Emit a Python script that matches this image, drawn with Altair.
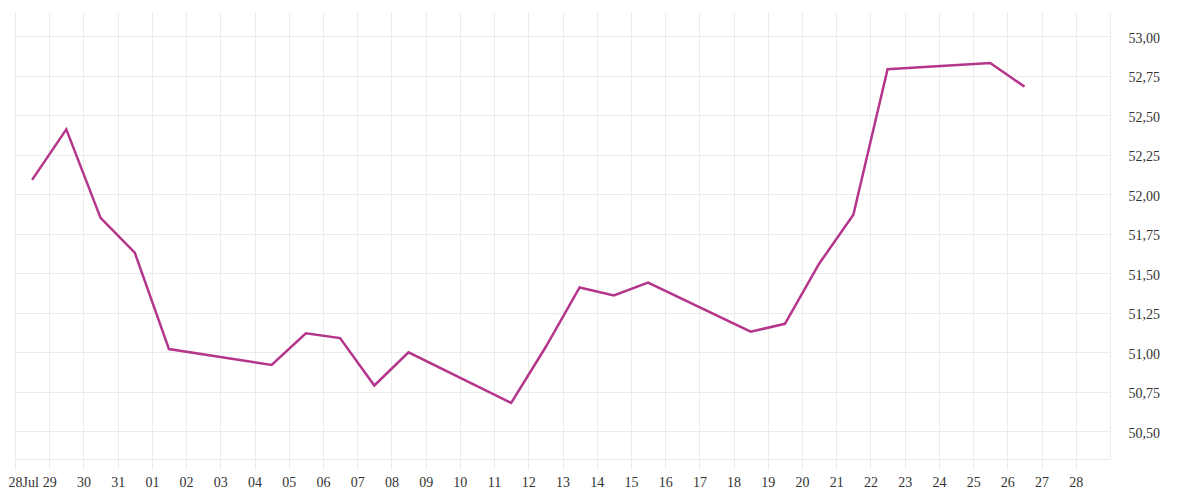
import json
import altair as alt
import pandas as pd

# Trading days (noon UTC) and closing values
dates = [
    "2025-07-28", "2025-07-29", "2025-07-30", "2025-07-31", "2025-08-01",
    "2025-08-04", "2025-08-05", "2025-08-06", "2025-08-07", "2025-08-08",
    "2025-08-11", "2025-08-12", "2025-08-13", "2025-08-14", "2025-08-15",
    "2025-08-18", "2025-08-19", "2025-08-20", "2025-08-21", "2025-08-22",
    "2025-08-25", "2025-08-26",
]
values = [
    52.09, 52.41, 51.85, 51.63, 51.02,
    50.92, 51.12, 51.09, 50.79, 51.00,
    50.68, 51.03, 51.41, 51.36, 51.44,
    51.13, 51.18, 51.56, 51.87, 52.79,
    52.83, 52.68,
]

# Axis tick labels (one per calendar day, Jul 28 .. Aug 28)
x_tick_labels = ["28Jul", "29", "30", "31", "01", "02", "03", "04", "05", "06",
                 "07", "08", "09", "10", "11", "12", "13", "14", "15", "16",
                 "17", "18", "19", "20", "21", "22", "23", "24", "25", "26",
                 "27", "28"]
y_tick_values = [50.5, 50.75, 51.0, 51.25, 51.5, 51.75, 52.0, 52.25, 52.5, 52.75, 53.0]
y_domain = [50.325, 53.152]

df = pd.DataFrame({"date": [d + "T12:00:00Z" for d in dates], "value": values})

start = pd.Timestamp("2025-07-28T00:00:00Z")
tick_dates = [start + pd.Timedelta(days=i) for i in range(len(x_tick_labels))]
tick_values = [alt.DateTime(year=t.year, month=t.month, date=t.day, hours=0, utc=True)
               for t in tick_dates]
start_ms = int(start.value // 1_000_000)
label_expr = f"{json.dumps(x_tick_labels)}[round((datum.value - {start_ms}) / 86400000)]"

GRID = "#ebebeb"
FONT = "Liberation Serif"

chart = alt.Chart(df).mark_line(color="#b5358c", strokeWidth=2.5).encode(
    x=alt.X(
        "date:T",
        scale=alt.Scale(
            type="utc",
            domain=[alt.DateTime(year=2025, month=7, date=28, hours=0, utc=True),
                    alt.DateTime(year=2025, month=8, date=29, hours=0, utc=True)],
        ),
        axis=alt.Axis(
            title=None,
            values=tick_values,
            labelExpr=label_expr,
            grid=True,
            gridColor=GRID,
            gridWidth=1,
            domain=True,
            domainColor=GRID,
            domainWidth=1,
            ticks=True,
            tickColor=GRID,
            tickSize=10,
            labelPadding=6,
            labelFont=FONT,
            labelFontSize=14,
            labelColor="#333333",
            labelAngle=0,
            labelOverlap=False,
            labelFlush=True,
            labelFlushOffset=7,
        ),
    ),
    y=alt.Y(
        "value:Q",
        scale=alt.Scale(domain=y_domain, zero=False, nice=False),
        axis=alt.Axis(
            title=None,
            orient="right",
            values=y_tick_values,
            labelExpr="replace(format(datum.value, '.2f'), '.', ',')",
            grid=True,
            gridColor=GRID,
            gridWidth=1,
            domain=True,
            domainColor=GRID,
            domainWidth=1,
            ticks=False,
            labelPadding=18,
            labelFont=FONT,
            labelFontSize=14,
            labelColor="#333333",
            labelAlign="left",
            labelBaseline="middle",
            labelOffset=2,
        ),
    ),
).properties(
    width=1095,
    height=447,
    autosize=alt.AutoSizeParams(type="none"),
    padding={"left": 7, "top": 4, "right": 60, "bottom": 36},
).configure_view(stroke=None)

chart.save("out.html", embed_options={"renderer": "svg", "actions": False})
